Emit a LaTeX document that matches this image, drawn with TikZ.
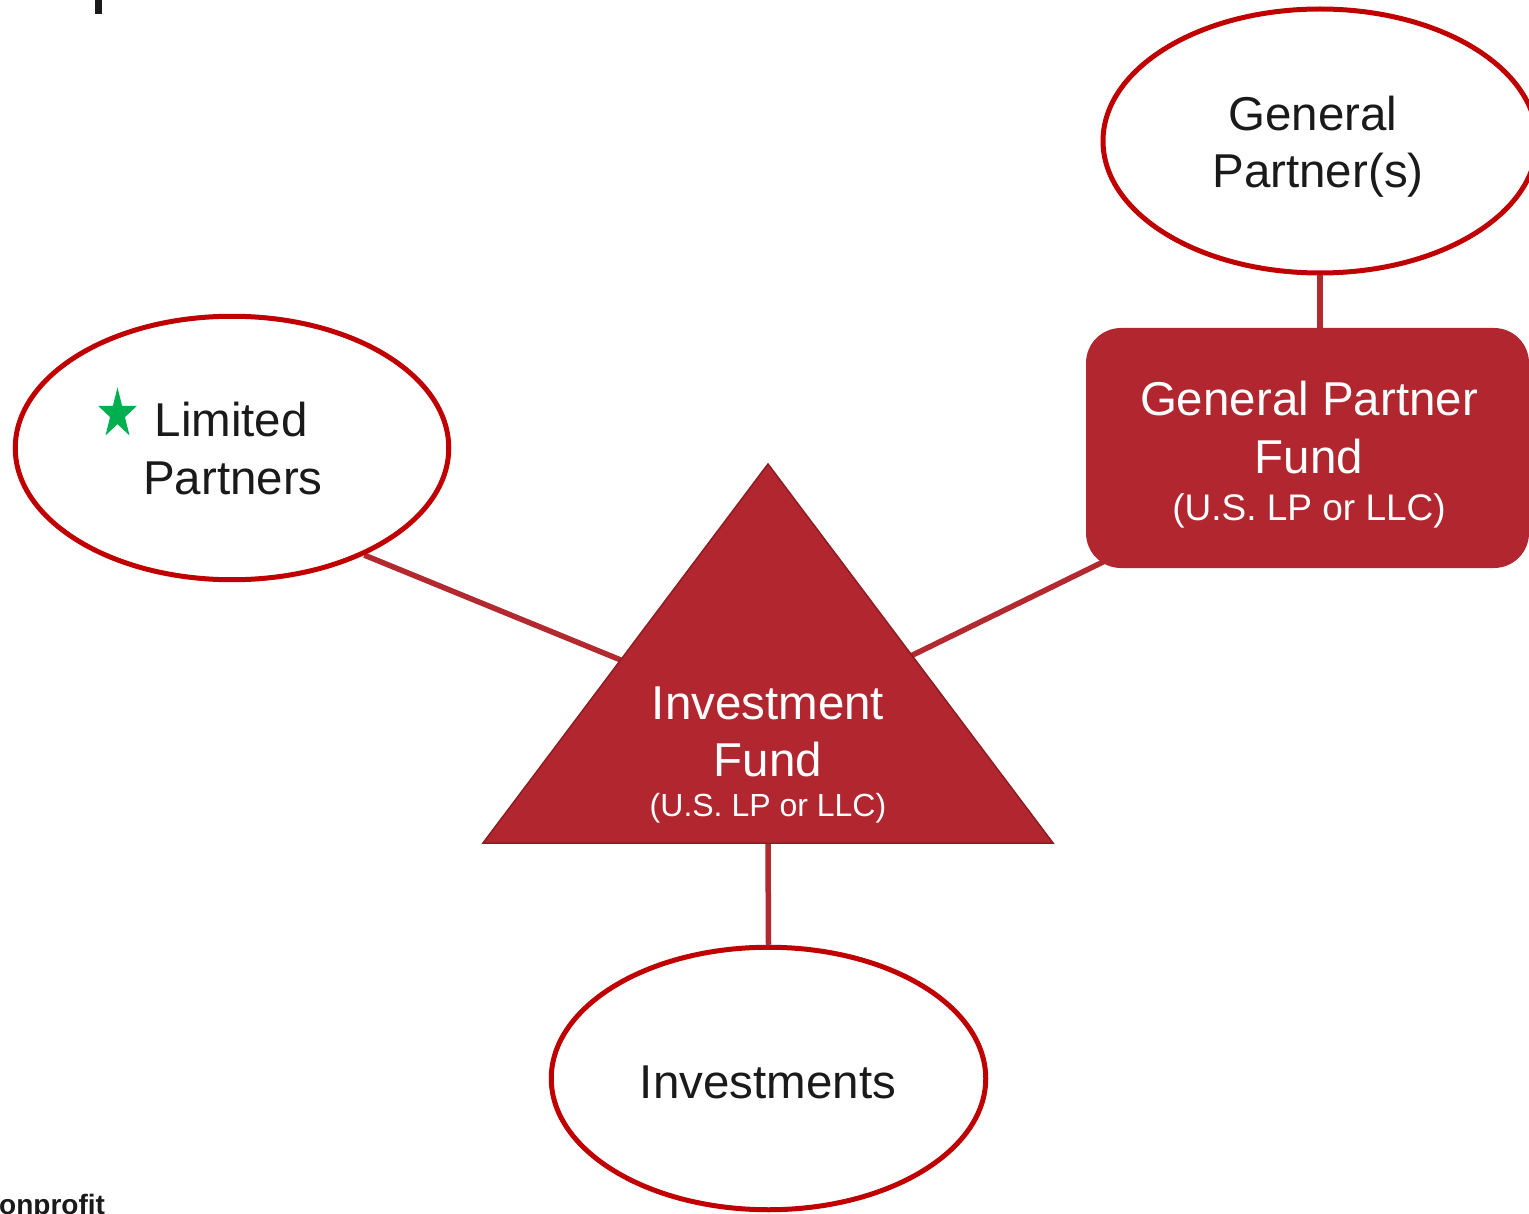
\documentclass[tikz,border=0pt]{standalone}
\usepackage{fontspec}
\setmainfont{Liberation Sans}
\usetikzlibrary{shapes.geometric,calc,backgrounds}

\definecolor{ringred}{HTML}{C00000}
\definecolor{fundred}{HTML}{B1262F}
\definecolor{fundedge}{HTML}{8E1C22}
\definecolor{linkred}{HTML}{B2292F}
\definecolor{ink}{HTML}{1A1A1A}
\definecolor{stargreen}{HTML}{00B050}

\begin{document}
\begin{tikzpicture}[x=1pt,y=-1pt,
  party/.style={ellipse, draw=ringred, line width=5pt, fill=white, inner sep=0pt},
  fundbox/.style={rectangle, rounded corners=35pt, fill=fundred, inner sep=0pt},
  link/.style={draw=linkred, line width=5.5pt},
  big/.style={font=\fontsize{47.5}{56}\selectfont, inner sep=0pt},
  small/.style={font=\fontsize{37}{44}\selectfont, inner sep=0pt},
  tiny/.style={font=\fontsize{32}{38}\selectfont, inner sep=0pt},
]
\useasboundingbox (0,0) rectangle (1529,1214);
\clip (0,0) rectangle (1529,1214);

% parties
\node[party, minimum width=434pt, minimum height=264pt] (gps) at (1320,141) {};
\node[party, minimum width=433.5pt, minimum height=263.5pt] (lp) at (232,448) {};
\node[party, minimum width=434.5pt, minimum height=262.5pt] (inv) at (768.5,1078.5) {};

% general partner fund
\node[fundbox, minimum width=443pt, minimum height=240pt] (gpf) at (1307.5,448) {};

% investment fund triangle
\coordinate (ta) at (768,464);
\coordinate (tbl) at (483,843);
\coordinate (tbr) at (1053,843);
\fill[fundred] (ta) -- (tbl) -- (tbr) -- cycle;
\draw[fundedge, line width=1.5pt, line join=miter] (ta) -- (tbl) -- (tbr) -- cycle;
\coordinate (tl) at ($(ta)!0.517!(tbl)$);
\coordinate (tr) at ($(ta)!0.505!(tbr)$);
\coordinate (tb) at ($(tbl)!0.5!(tbr)$);
\coordinate (gpfcorner) at (1103,562);

% connectors
\begin{scope}[on background layer]
  \draw[link] (lp.-39.2) -- (tl);
  \draw[link] (tr) -- ($(tr)!1.09!(gpfcorner)$);
  \draw[link] (tb) -- (inv.north);
  \draw[link] (gps.south) -- (gps.south |- gpf.north);
\end{scope}

% labels
\node[big, text=ink, anchor=base] (gps1) at (1313,131) {General};
\node[big, text=ink, anchor=base] (gps2) at (1318,188) {Partner(s)};

\node[star, star points=5, star point ratio=2.6, fill=stargreen, inner sep=0pt,
      minimum size=53pt, xscale=0.77] (mark) at (117.5,414) {};
\node[big, text=ink, anchor=base west] (lp1) at (154.5,437) {Limited};
\node[big, text=ink, anchor=base west] (lp2) at (143,494) {Partners};

\node[big, text=ink, anchor=base] (inv1) at (768,1098) {Investments};

\node[big, text=white, anchor=base] (gpf1) at (1309,416) {General Partner};
\node[big, text=white, anchor=base] (gpf2) at (1309,473) {Fund};
\node[small, text=white, anchor=base] (gpf3) at (1309,520) {(U.S. LP or LLC)};

\node[big, text=white, anchor=base] (fund1) at (768,719) {Investment};
\node[big, text=white, anchor=base] (fund2) at (768,776) {Fund};
\node[tiny, text=white, anchor=base] (fund3) at (768,816) {(U.S. LP or LLC)};

% cut-off page furniture
\fill[ink] (95,0) rectangle (102,14);
\node[font=\fontsize{28}{33}\bfseries, text=ink, anchor=base west, inner sep=0pt] (org) at (-1,1214) {onprofit};
\end{tikzpicture}
\end{document}
